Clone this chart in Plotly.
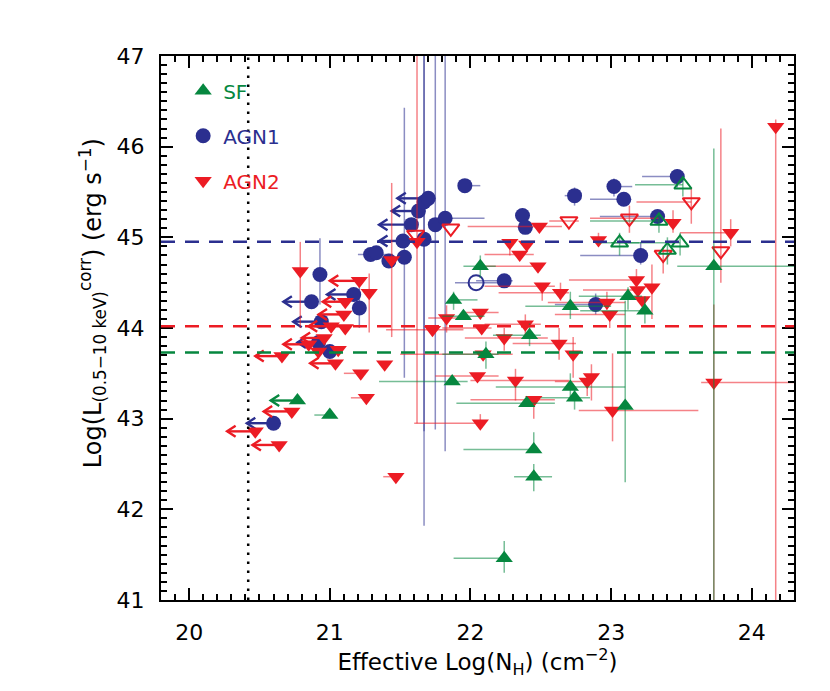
import plotly.graph_objects as go

# ---------------- data ----------------
# SF (green up-triangles)
sf_x   = [20.77, 21.00, 21.88, 21.95, 22.07, 22.11, 21.87, 22.42, 22.71, 22.71, 22.74, 22.40, 22.45, 22.45, 22.24, 23.10, 23.12, 23.24, 23.73,
          23.06, 23.40, 23.49, 23.51, 23.34]
sf_y   = [43.20, 43.04, 44.31, 44.13, 44.68, 43.71, 43.41, 43.92, 44.24, 43.35, 43.23, 43.17, 42.66, 42.36, 41.46, 43.14, 44.35, 44.19, 44.68,
          44.94, 44.86, 44.94, 45.58, 45.18]
sf_xlo = [20.58, 20.89, 21.85, 21.80, 21.95, 21.80, 21.35, 22.16, 22.39, 22.18, 22.50, 21.90, 21.95, 22.31, 21.88, None, 22.77, 22.78, 23.47,
          22.90, None, 23.00, 23.17, 22.85]
sf_xhi = [None, None, 22.05, 22.10, 22.18, 22.20, 21.98, 22.50, 23.00, 23.10, 22.85, 22.60, None, 22.58, None, None, 23.22, 23.25, 24.40,
          23.20, None, None, None, None]
sf_ylo = [None, None, 44.20, None, 44.55, 43.55, None, 43.80, 44.10, 43.20, 43.10, None, None, 42.20, 41.30, 42.30, 44.20, 44.05, 40.80,
          44.80, 44.70, 44.80, 45.45, 45.05]
sf_yhi = [None, None, 44.40, None, 44.80, 43.85, None, 44.05, 44.40, 43.50, 43.35, None, 42.85, 42.50, 41.65, 44.30, 44.45, 44.35, 45.98,
          45.05, 45.00, 45.05, 45.65, 45.25]
sf_open = [0]*19 + [1]*5
sf_lim  = [1] + [0]*23

# AGN1 (blue circles)
a1_x   = [20.60, 20.87, 20.93, 20.94, 20.92, 21.00, 21.17, 21.21, 21.29, 21.33, 21.42, 21.53, 21.52, 21.67, 21.58, 21.63, 21.67, 21.70,
          21.75, 21.82, 21.96, 22.24, 22.37, 22.39, 22.74, 23.02, 23.09, 23.47, 23.33, 23.21, 22.89, 22.04]
a1_y   = [42.95, 44.29, 44.59, 44.07, 43.84, 43.74, 44.37, 44.22, 44.81, 44.83, 44.74, 44.78, 44.96, 44.98, 45.14, 45.29, 45.39, 45.43,
          45.14, 45.21, 45.57, 44.52, 45.24, 45.11, 45.46, 45.56, 45.42, 45.67, 45.23, 44.80, 44.26, 44.50]
a1_xlo = [20.41, 20.67, None, 20.74, 20.77, None, 20.98, None, 21.20, None, None, None, 21.35, None, 21.35, 21.44, None, 21.48,
          None, None, None, 22.04, None, None, 22.67, None, 22.85, 23.22, 22.92, 22.78, 22.60, 21.89]
a1_xhi = [None, None, None, None, None, None, None, None, 21.45, None, None, None, None, None, None, None, None, None,
          None, 22.10, 22.07, 22.30, 22.41, None, None, 23.15, None, None, None, None, None, 22.27]
a1_ylo = [None, None, 44.26, None, None, None, None, 44.00, None, None, None, 43.45, None, 41.82, None, None, 42.86, None,
          42.88, 42.64, None, None, 45.10, None, 45.35, 45.45, None, 45.55, None, 44.70, 44.15, None]
a1_yhi = [None, None, 44.99, None, None, None, None, 44.45, None, None, None, 46.43, None, 47.50, None, None, 47.50, None,
          47.50, 47.50, None, None, 45.30, None, 45.55, 45.65, None, 45.75, None, 44.95, 44.38, None]
a1_open = [0]*31 + [1]
a1_lim  = [1, 1, 0, 1, 1, 0, 1, 0, 0, 0, 0, 0, 1, 0, 1, 1, 0, 1, 0, 0, 0, 0, 0, 0, 0, 0, 0, 0, 0, 0, 0, 0]

# AGN2 (red down-triangles)
a2_x   = [20.47, 20.64, 20.73, 20.66, 20.79, 20.85, 20.92, 20.96, 21.01, 21.04, 21.06, 21.10, 21.11, 21.11, 21.21, 21.28, 21.22, 21.26,
          21.39, 21.44, 21.47, 21.62, 21.73, 21.83, 22.05, 22.07, 22.08, 22.07, 22.09, 22.24, 22.28, 22.32, 22.35, 22.39, 22.40, 22.45,
          22.48, 22.49, 22.51, 22.63, 22.64, 22.73, 22.83, 22.86, 22.91, 22.97, 22.99, 23.01, 23.18, 23.19, 23.22, 23.29, 23.44, 23.85,
          23.73, 24.17,
          21.61, 21.86, 22.70, 23.13, 23.37, 23.57, 23.78]
a2_y   = [42.86, 42.71, 43.08, 43.69, 44.63, 43.82, 43.74, 43.89, 44.02, 43.61, 43.76, 44.15, 44.29, 44.00, 44.52, 44.39, 43.50, 43.23,
          43.60, 44.75, 42.36, 44.95, 43.98, 44.11, 43.47, 44.17, 44.00, 42.95, 43.71, 43.89, 44.94, 43.42, 44.81, 44.04, 44.92, 43.21,
          44.68, 45.12, 44.46, 43.83, 44.39, 43.71, 43.41, 43.46, 44.97, 44.28, 44.15, 43.09, 44.53, 44.42, 44.31, 44.45, 45.16, 45.05,
          43.40, 46.22,
          45.03, 45.10, 45.18, 45.21, 44.81, 45.39, 44.85]
a2_xlo = [20.27, 20.45, 20.53, 20.47, None, 20.67, None, 20.80, 20.85, 20.86, None, 20.92, 20.95, None, 21.00, None, 21.10, 21.15,
          None, None, 21.38, None, 21.40, 21.70, 21.75, 21.95, 21.80, 21.60, 21.50, 21.96, None, 22.00, 22.10, 22.10, None, 22.00,
          22.08, 21.98, 22.10, 22.30, 22.20, None, 22.60, None, None, 22.55, 22.60, 22.77, 22.70, 22.80, None, None, None, 23.49,
          23.64, None,
          None, None, 22.56, 22.85, None, 23.18, None]
a2_xhi = [None, None, None, None, None, None, None, None, None, None, None, None, None, None, None, None, None, None,
          None, None, None, None, 21.95, 22.00, 22.20, 22.20, 22.15, None, 22.30, 22.55, None, 22.70, 22.45, 22.50, None, 22.60,
          22.50, 22.65, 22.60, 22.75, 22.70, None, None, None, None, 23.10, 23.10, 23.62, 23.20, None, None, None, None, None,
          24.40, None,
          None, None, 22.77, 23.34, None, None, None]
a2_ylo = [None, None, None, None, 44.00, None, None, None, None, None, None, None, None, None, None, 43.95, None, None,
          None, 43.90, None, 42.95, None, 43.95, None, None, None, None, None, 43.75, 44.80, 43.20, None, 43.90, None, 43.00,
          None, None, 44.30, 43.65, 44.30, 43.45, 43.25, 43.20, None, 44.20, 44.00, 42.75, 44.45, None, None, 44.10, 45.05, 44.90,
          40.80, 40.80,
          None, None, None, 45.05, 44.60, 45.15, 44.50]
a2_yhi = [None, None, None, None, 44.95, None, None, None, None, None, None, None, None, None, None, 44.60, None, None,
          None, 45.60, None, 47.50, None, 44.25, None, None, None, 43.05, None, 44.00, None, 43.55, None, 44.15, None, None,
          None, None, None, 44.00, 44.50, 43.90, None, 43.60, 45.05, 44.40, None, 43.72, 44.65, None, None, 44.70, 45.30, 45.20,
          44.26, 46.30,
          None, None, None, 45.35, 44.90, 45.55, 46.20]
a2_open = [0]*56 + [1]*7
a2_lim  = [1, 1, 1, 1, 0, 1, 0, 1, 1, 1, 0, 1, 1, 0, 1] + [0]*48

# reference lines
ref_names = ["AGN1", "AGN2", "SF"]
ref_levels = [44.95, 44.02, 43.73]
nh_gal = 20.42

x_range = [19.8, 24.3]
y_range = [41, 47]
x_ticks = [20, 21, 22, 23, 24]
y_ticks = [41, 42, 43, 44, 45, 46, 47]

x_title = "Effective Log(N<sub>H</sub>) (cm<sup>−2</sup>)"
y_title = "Log(L<sub>(0.5−10 keV)</sub><sup>corr</sup>) (erg s<sup>−1</sup>)"

# ---------------- styling ----------------
W, H = 830, 691
ML, MR, MT, MB = 153, 44, 48, 99
COL = {"SF": "#06873f", "AGN1": "#2b2f8f", "AGN2": "#ec1c24"}
ERR = {"SF": "rgba(6,135,63,0.55)", "AGN1": "rgba(43,47,143,0.55)", "AGN2": "rgba(236,28,36,0.55)"}
SYM = {"SF": "triangle-up", "AGN1": "circle", "AGN2": "triangle-down"}
RANK = {"SF": 1, "AGN1": 2, "AGN2": 3}
FONT = "DejaVu Sans, Verdana, sans-serif"
FS = 22

# pixel -> data conversion for arrow-head size (head drawn in pixels)
px_x = (W - ML - MR) / (x_range[1] - x_range[0])
px_y = (H - MT - MB) / (y_range[1] - y_range[0])
HEAD_DX = 8.5 / px_x
HEAD_DY = 5.5 / px_y

fig = go.Figure()


def fill(v, d):
    return [d[i] if v[i] is None else v[i] for i in range(len(v))]


def add_group(key, xs, ys, xlo, xhi, ylo, yhi, opens, lims):
    xlo_f = fill(xlo, xs)
    xhi_f = fill(xhi, xs)
    ylo_f = fill(ylo, ys)
    yhi_f = fill(yhi, ys)
    # left-pointing arrows for upper limits on N_H
    ax, ay = [], []
    for i in range(len(xs)):
        if lims[i]:
            t = xlo_f[i]
            ax += [xs[i], t, None, t + HEAD_DX, t, t + HEAD_DX, None]
            ay += [ys[i], ys[i], None, ys[i] + HEAD_DY, ys[i], ys[i] - HEAD_DY, None]
    if ax:
        fig.add_trace(go.Scatter(x=ax, y=ay, mode="lines", showlegend=False, hoverinfo="skip",
                                 line=dict(color=COL[key], width=2.4)))
    for is_open in (0, 1):
        idx = [i for i in range(len(xs)) if opens[i] == is_open]
        if not idx:
            continue
        ex_p = [xhi_f[i] - xs[i] for i in idx]
        ex_m = [0 if lims[i] else xs[i] - xlo_f[i] for i in idx]
        ey_p = [yhi_f[i] - ys[i] for i in idx]
        ey_m = [ys[i] - ylo_f[i] for i in idx]
        fig.add_trace(go.Scatter(
            x=[xs[i] for i in idx], y=[ys[i] for i in idx], mode="markers",
            name='<span style="color:%s">%s</span>' % (COL[key], key),
            showlegend=(is_open == 0), legendgroup=key, legendrank=RANK[key],
            marker=dict(symbol=SYM[key] + ("-open" if is_open else ""),
                        size=15,
                        color=COL[key],
                        line=dict(width=2 if is_open else 0, color=COL[key])),
            error_x=dict(type="data", symmetric=False, array=ex_p, arrayminus=ex_m,
                         color=ERR[key], thickness=1.5, width=0),
            error_y=dict(type="data", symmetric=False, array=ey_p, arrayminus=ey_m,
                         color=ERR[key], thickness=1.5, width=0),
        ))


add_group("AGN1", a1_x, a1_y, a1_xlo, a1_xhi, a1_ylo, a1_yhi, a1_open, a1_lim)
add_group("AGN2", a2_x, a2_y, a2_xlo, a2_xhi, a2_ylo, a2_yhi, a2_open, a2_lim)
add_group("SF", sf_x, sf_y, sf_xlo, sf_xhi, sf_ylo, sf_yhi, sf_open, sf_lim)

shapes = []
for nm, lv in zip(ref_names, ref_levels):
    shapes.append(dict(type="line", xref="paper", yref="y", x0=0, x1=1, y0=lv, y1=lv,
                       line=dict(color=COL[nm], width=2.5, dash="14px,10px"), layer="above"))
shapes.append(dict(type="line", xref="x", yref="paper", x0=nh_gal, x1=nh_gal, y0=0, y1=1,
                   line=dict(color="black", width=2.5, dash="2.5px,6.5px"), layer="above"))

axis_common = dict(
    showline=True, linewidth=2, linecolor="black", mirror="ticks",
    ticks="inside", ticklen=12, tickwidth=1.5, tickcolor="black",
    showgrid=False, zeroline=False,
    tickfont=dict(family=FONT, size=FS, color="black"),
)

# y-axis title as a rotated annotation (placed slightly above the axis centre, as in the original)
annotations = [dict(text=y_title, xref="paper", yref="paper", x=-0.108, y=0.545,
                    xanchor="center", yanchor="middle", textangle=-90, showarrow=False,
                    font=dict(family=FONT, size=24, color="black"))]

fig.update_layout(
    width=W, height=H,
    margin=dict(l=ML, r=MR, t=MT, b=MB),
    paper_bgcolor="white", plot_bgcolor="white",
    shapes=shapes, annotations=annotations,
    font=dict(family=FONT, size=FS, color="black"),
    xaxis=dict(range=x_range, tickvals=x_ticks, ticktext=[str(v) for v in x_ticks],
               minor=dict(dtick=0.1, ticklen=6, tickwidth=1.5, tickcolor="black", ticks="inside"),
               ticklabelstandoff=12,
               title=dict(text=x_title, font=dict(family=FONT, size=23), standoff=2),
               **axis_common),
    yaxis=dict(range=y_range, tickvals=y_ticks, ticktext=[str(v) for v in y_ticks],
               minor=dict(dtick=0.1, ticklen=6, tickwidth=1.5, tickcolor="black", ticks="inside"),
               ticklabelstandoff=10,
               **axis_common),
    legend=dict(x=0.035, y=0.972, xanchor="left", yanchor="top", bgcolor="rgba(0,0,0,0)",
                font=dict(family=FONT, size=20), tracegroupgap=16, itemsizing="trace",
                traceorder="grouped"),
    showlegend=True,
)

fig.write_html("out.html")
